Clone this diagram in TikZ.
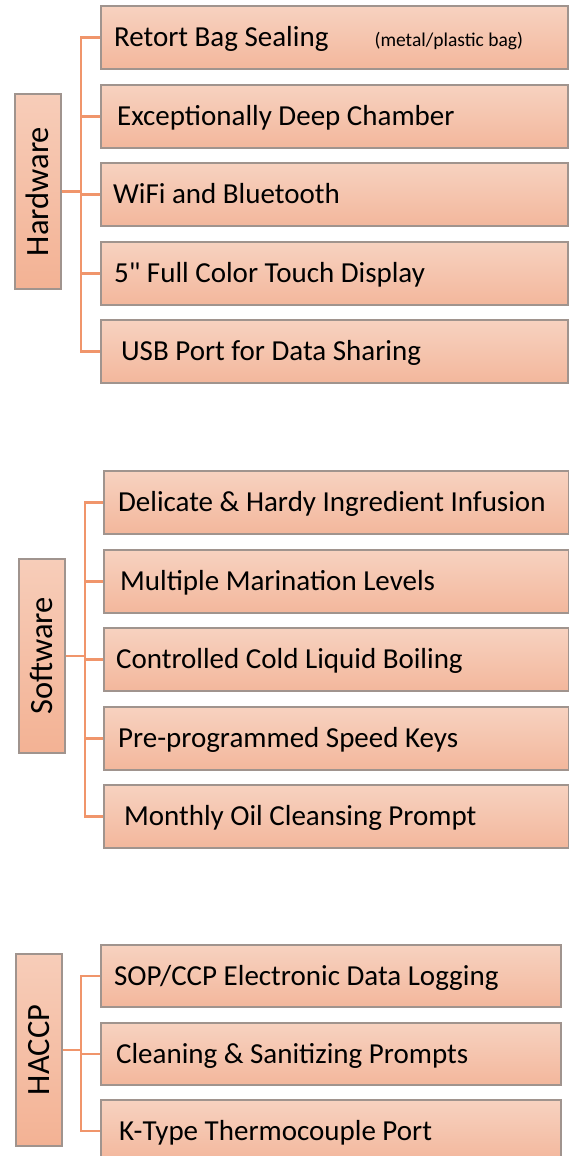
\documentclass[tikz,border=0pt]{standalone}
\usepackage{fontspec}
\setmainfont{Carlito}
\newfontfamily\qfont{Carlito}
\definecolor{linec}{HTML}{F0956B}
\definecolor{boxedge}{HTML}{A0948E}
\definecolor{boxtop}{HTML}{F7D2C0}
\definecolor{boxbot}{HTML}{F3B79C}
\definecolor{hdtop}{HTML}{F7CDB9}
\definecolor{hdbot}{HTML}{F3B294}
\begin{document}
\begin{tikzpicture}[x=1pt,y=-1pt,
  childbox/.style={draw=boxedge, line width=1.2pt, top color=boxtop, bottom color=boxbot, minimum height=63pt, inner sep=0pt},
  headbox/.style={draw=boxedge, line width=1.2pt, top color=hdtop, bottom color=hdbot, minimum width=46pt, inner sep=0pt},
  itemtext/.style={anchor=base west, inner sep=0pt, font=\fontsize{29}{34}\selectfont},
  smalltext/.style={anchor=base west, inner sep=0pt, font=\fontsize{19.5}{23}\selectfont},
  headtext/.style={anchor=base, rotate=90, inner sep=0pt, font=\fontsize{32.5}{38}\selectfont},
  conn/.style={draw=linec, line width=2.8pt}]
\useasboundingbox (0,0) rectangle (569,1156);
% ---------- Hardware ----------
\node[headbox, minimum height=195pt] (hw) at (38,191.5) {};
\node[headtext] (hwt) at (48.5,191.5) {Hardware};
\coordinate (hbus) at (81,0);
\node[childbox, minimum width=467pt] (h1) at (334.5,37.5) {};
\node[childbox, minimum width=467pt] (h2) at (334.5,116.5) {};
\node[childbox, minimum width=467pt] (h3) at (334.5,194.5) {};
\node[childbox, minimum width=467pt] (h4) at (334.5,273.5) {};
\node[childbox, minimum width=467pt] (h5) at (334.5,351.5) {};
\node[itemtext] (h1t) at ([xshift=13.5pt,yshift=-9.3pt]h1.west) {Retort Bag Sealing};
\node[smalltext] (h1s) at ([xshift=274pt,yshift=-9.3pt]h1.west) {(metal/plastic bag)};
\node[itemtext] (h2t) at ([xshift=16.5pt,yshift=-9.3pt]h2.west) {Exceptionally Deep Chamber};
\node[itemtext] (h3t) at ([xshift=12.5pt,yshift=-9.3pt]h3.west) {WiFi and Bluetooth};
\node[itemtext] (h4t) at ([xshift=13.5pt,yshift=-9.3pt]h4.west) {5{\qfont"} Full Color Touch Display};
\node[itemtext] (h5t) at ([xshift=20.5pt,yshift=-9.3pt]h5.west) {USB Port for Data Sharing};
\foreach \c in {h1,h2,h3,h4,h5}
  \draw[conn] (hw.east) -- (hw.east -| hbus) |- (\c.west);
% ---------- Software ----------
\node[headbox, minimum height=194pt] (sw) at (42,656) {};
\node[headtext] (swt) at (52.5,656) {Software};
\coordinate (sbus) at (85,0);
\node[childbox, minimum width=465pt] (s1) at (336.5,502.5) {};
\node[childbox, minimum width=465pt] (s2) at (336.5,581.5) {};
\node[childbox, minimum width=465pt] (s3) at (336.5,659.5) {};
\node[childbox, minimum width=465pt] (s4) at (336.5,738.5) {};
\node[childbox, minimum width=465pt] (s5) at (336.5,816.5) {};
\node[itemtext] (s1t) at ([xshift=14.5pt,yshift=-9.3pt]s1.west) {Delicate \& Hardy Ingredient Infusion};
\node[itemtext] (s2t) at ([xshift=16.5pt,yshift=-9.3pt]s2.west) {Multiple Marination Levels};
\node[itemtext] (s3t) at ([xshift=12.5pt,yshift=-9.3pt]s3.west) {Controlled Cold Liquid Boiling};
\node[itemtext] (s4t) at ([xshift=14.5pt,yshift=-9.3pt]s4.west) {Pre-programmed Speed Keys};
\node[itemtext] (s5t) at ([xshift=20.5pt,yshift=-9.3pt]s5.west) {Monthly Oil Cleansing Prompt};
\foreach \c in {s1,s2,s3,s4,s5}
  \draw[conn] (sw.east) -- (sw.east -| sbus) |- (\c.west);
% ---------- HACCP ----------
\node[headbox, minimum height=192pt] (hc) at (39,1050) {};
\node[headtext] (hct) at (49.5,1050) {HACCP};
\coordinate (cbus) at (81,0);
\node[childbox, minimum width=460pt, minimum height=62pt] (c1) at (331,976) {};
\node[childbox, minimum width=460pt, minimum height=62pt] (c2) at (331,1054) {};
\node[childbox, minimum width=460pt, minimum height=62pt] (c3) at (331,1131) {};
\node[itemtext] (c1t) at ([xshift=13.5pt,yshift=-9.3pt]c1.west) {SOP/CCP Electronic Data Logging};
\node[itemtext] (c2t) at ([xshift=15.5pt,yshift=-9.3pt]c2.west) {Cleaning \& Sanitizing Prompts};
\node[itemtext] (c3t) at ([xshift=18.5pt,yshift=-9.3pt]c3.west) {K-Type Thermocouple Port};
\foreach \c in {c1,c2,c3}
  \draw[conn] (hc.east) -- (hc.east -| cbus) |- (\c.west);
\end{tikzpicture}
\end{document}
